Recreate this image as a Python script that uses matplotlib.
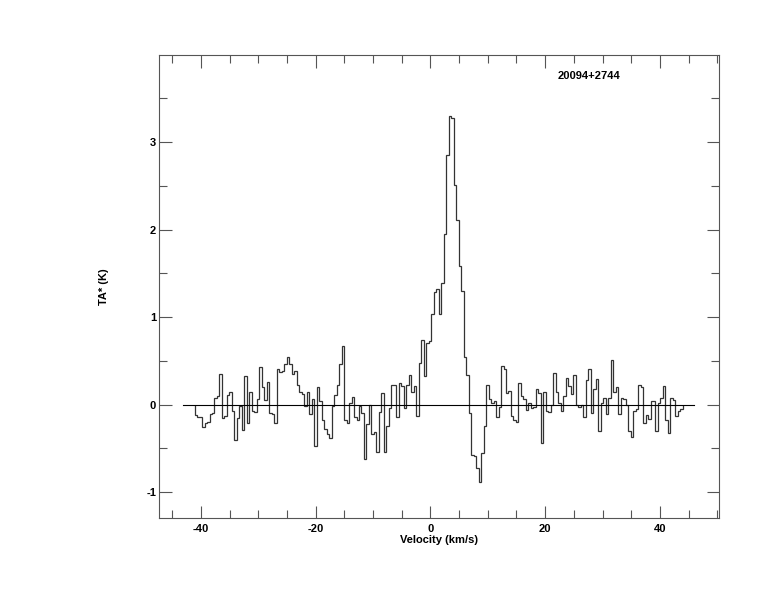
import numpy as np
import matplotlib
matplotlib.use('Agg')
import matplotlib.pyplot as plt
from matplotlib.ticker import MultipleLocator

# Spectrum: antenna temperature per channel (K)
source_name = '20094+2744'
v_start = -41.1      # left edge of first channel (km/s)
v_end = 44.0         # right edge of last channel (km/s)

ta_part1 = [-0.115, -0.14, -0.14, -0.26, -0.21, -0.20, -0.11, -0.10, 0.08, 0.10,
            0.35, -0.15, -0.13, 0.11, 0.14, -0.07, -0.40, -0.15, -0.02, -0.29,
            0.33, -0.21, 0.14, -0.07, -0.08, 0.07, 0.43, 0.20, 0.05, 0.26,
            -0.09, -0.11, -0.21, 0.41, 0.37, 0.39, 0.47, 0.55, 0.47, 0.35,
            0.39, 0.22, 0.15, 0.12, -0.01, 0.14, -0.11, 0.07]
ta_part2 = [-0.47, 0.20, 0.04, -0.18, -0.28, -0.33, -0.38, -0.02, 0.11, 0.22,
            0.47, 0.67, -0.18, -0.21, 0.02, 0.09, -0.14, -0.18, -0.02, -0.10,
            -0.62, -0.22, 0.0, -0.34, -0.31, -0.54, -0.08, 0.13, -0.54, -0.24,
            -0.04, 0.22, 0.22, -0.14, 0.25, 0.21, -0.04, 0.23]
ta_part3 = [0.345, 0.15, 0.21, -0.13, 0.475, 0.74, 0.33, 0.71, 0.73, 1.04,
            1.29, 1.32, 1.04, 1.39, 1.95, 2.85, 3.30, 3.27, 2.51, 2.11,
            1.59, 1.30, 0.54, 0.345, -0.09, -0.57, -0.59, -0.72, -0.88, -0.55,
            -0.24, 0.23, 0.07, 0.02, 0.04, -0.14]
ta_part4 = [-0.03, 0.44, 0.41, 0.13, 0.16, -0.13, -0.18, -0.20, 0.25, 0.10,
            0.07, -0.06, 0.02, -0.04, -0.03, 0.18, 0.13, -0.44, 0.14, -0.07,
            -0.08, 0.0, 0.36, 0.14, 0.02, -0.07]
ta_part5 = [0.10, 0.31, 0.21, 0.12, 0.34, 0.0, -0.03, 0.0, -0.14, 0.28,
            0.41, -0.09, 0.18, 0.29, -0.30, 0.02, 0.08, -0.11, 0.08, 0.51,
            0.15, 0.20, -0.11, 0.08, 0.07, 0.0, -0.30, -0.37, -0.07,
            -0.05, 0.23, 0.20, -0.21, -0.12, -0.16, 0.04, 0.04, -0.30, 0.02,
            0.08, 0.21, -0.17, -0.32, 0.08, 0.05, -0.13, -0.07, -0.05]

ta = np.array(ta_part1 + ta_part2 + ta_part3 + ta_part4 + ta_part5)
edges = np.linspace(v_start, v_end, len(ta) + 1)

plt.rcParams['font.family'] = ['Liberation Sans', 'DejaVu Sans']
plt.rcParams['font.size'] = 8
plt.rcParams['font.weight'] = 'bold'
plt.rcParams['axes.unicode_minus'] = False

fig = plt.figure(figsize=(7.74, 6.12), dpi=100)
ax = fig.add_axes([0.2054, 0.1536, 0.7236, 0.7565])

ax.stairs(ta, edges, color='#333333', linewidth=0.9)
ax.plot([-43.1, 45.9], [0, 0], color='black', linewidth=0.8)

ax.set_xlim(-47.3, 50.3)
ax.set_ylim(-1.294, 3.995)

ax.xaxis.set_major_locator(MultipleLocator(20))
ax.xaxis.set_minor_locator(MultipleLocator(5))
ax.yaxis.set_major_locator(MultipleLocator(1))
ax.yaxis.set_minor_locator(MultipleLocator(0.5))
ax.tick_params(which='both', direction='in', top=True, right=True,
               color='#555555', width=0.8)
ax.tick_params(which='major', length=9)
ax.tick_params(which='minor', length=6)
ax.tick_params(axis='x', which='major', pad=4)
ax.tick_params(axis='y', which='major', pad=2)
for lab in ax.get_xticklabels() + ax.get_yticklabels():
    lab.set_fontweight('bold')

for spine in ax.spines.values():
    spine.set_color('#555555')
    spine.set_linewidth(0.8)

ax.set_xlabel('Velocity (km/s)', fontweight='bold', labelpad=1)
ax.set_ylabel('TA* (K)', fontweight='bold')
ax.yaxis.set_label_coords(-0.09, 0.5)

ax.text(0.768, 0.955, source_name, transform=ax.transAxes, ha='center',
        va='center', fontweight='bold')

fig.savefig('out.png', dpi=100)
